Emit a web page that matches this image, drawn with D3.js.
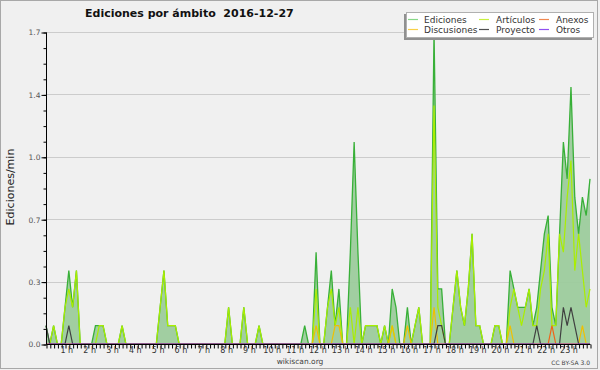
<!DOCTYPE html>
<html><head><meta charset="utf-8">
<script src="https://cdn.jsdelivr.net/npm/d3@7"></script>
<style>
html,body{margin:0;padding:0;background:#f0f0f0;}
svg{display:block;}
text{font-family:"DejaVu Sans",sans-serif;}
</style></head>
<body>
<svg id="c" width="600" height="370"></svg>
<script>
// ---- data (edits per minute, 10-minute bins, 2016-12-27) ----
const ediciones = [
0.1,0,0.1,0,0,0.2,0.4,0.2,0.4,0,0,0,
0,0.1,0.1,0.1,0,0,0,0,0.1,0,0,0,
0,0,0,0,0,0,0.2,0.4,0.1,0.1,0.1,0,
0,0,0,0,0,0,0,0,0,0,0,0,
0.2,0,0,0,0.2,0,0,0,0.1,0,0,0,
0,0,0,0,0,0,0,0,0.1,0,0,0.5,
0,0,0.2,0.4,0.1,0.3,0,0,0.5,1.1,0.5,0,
0.1,0.1,0.1,0.1,0,0.1,0,0.3,0.2,0,0,0.2,
0,0.1,0.2,0,0,0,1.7,0.3,0.3,0,0,0.2,
0.4,0.2,0.1,0.3,0.6,0.1,0.1,0,0,0,0.1,0.1,
0,0,0.4,0.3,0.2,0.2,0.2,0.3,0.1,0.2,0.4,0.6,
0.7,0.2,0.1,0.6,1.1,0.9,1.4,0.8,0.6,0.8,0.7,0.9];
const articulos = [
0,0,0.1,0,0,0.2,0.3,0.2,0.4,0,0,0,
0,0,0.1,0.1,0,0,0,0,0.1,0,0,0,
0,0,0,0,0,0,0.2,0.4,0.1,0.1,0.1,0,
0,0,0,0,0,0,0,0,0,0,0,0,
0.2,0,0,0,0.2,0,0,0,0.1,0,0,0,
0,0,0,0,0,0,0,0,0,0,0,0.3,
0,0,0.2,0.3,0.1,0.2,0,0,0.2,0,0.2,0,
0.1,0.1,0.1,0.1,0,0.1,0,0.1,0,0,0,0,
0,0.1,0.2,0,0,0,1.3,0.2,0.1,0,0,0.2,
0.4,0.2,0.1,0.3,0.6,0.1,0.1,0,0,0,0.1,0.1,
0,0,0.2,0.3,0.2,0.1,0.2,0.3,0.1,0.1,0.3,0.4,
0.6,0.1,0.1,0.6,0.5,0.8,1.0,0.4,0.6,0.4,0.2,0.3];
const anexos = [
0,0,0,0,0,0,0,0,0,0,0,0,
0,0,0,0,0,0,0,0,0,0,0,0,
0,0,0,0,0,0,0,0,0,0,0,0,
0,0,0,0,0,0,0,0,0,0,0,0,
0,0,0,0,0,0,0,0,0,0,0,0,
0,0,0,0,0,0,0,0,0,0,0,0,
0,0,0,0,0,0,0,0,0,0,0,0,
0,0,0,0,0,0,0,0,0,0,0,0,
0,0,0,0,0,0,0,0,0,0,0,0,
0,0,0,0,0,0,0,0,0,0,0,0,
0,0,0,0,0,0,0,0,0,0,0,0,
0,0.1,0,0,0,0,0,0,0,0,0,0];
const discusiones = [
0,0,0,0,0,0,0,0,0,0,0,0,
0,0,0,0,0,0,0,0,0,0,0,0,
0,0,0,0,0,0,0,0,0,0,0,0,
0,0,0,0,0,0,0,0,0,0,0,0,
0,0,0,0,0,0,0,0,0,0,0,0,
0,0,0,0,0,0,0,0,0,0,0,0.1,
0,0,0,0,0.1,0.1,0,0,0,0,0,0,
0,0,0,0,0,0,0,0.1,0,0,0,0.1,
0,0,0,0,0,0,0.2,0,0,0,0,0,
0,0,0,0,0,0,0,0,0,0,0,0,
0,0,0.1,0,0,0,0,0,0,0,0,0,
0,0,0,0,0,0,0,0,0,0.1,0,0];
const proyecto = [
0.1,0,0,0,0,0,0.1,0,0,0,0,0,
0,0,0,0,0,0,0,0,0,0,0,0,
0,0,0,0,0,0,0,0,0,0,0,0,
0,0,0,0,0,0,0,0,0,0,0,0,
0,0,0,0,0,0,0,0,0,0,0,0,
0,0,0,0,0,0,0,0,0,0,0,0,
0,0,0,0,0,0,0,0,0,0,0,0,
0,0,0,0,0,0,0,0,0,0,0,0,
0,0,0,0,0,0,0,0.1,0.1,0,0,0,
0,0,0,0,0,0,0,0,0,0,0,0,
0,0,0,0,0,0,0,0,0,0.1,0,0,
0,0,0,0,0.2,0.1,0.2,0.1,0,0,0,0];
const otros = new Array(144).fill(0);

const yTickValues = [0, 0.34, 0.68, 1.02, 1.36, 1.7];
const yTickLabels = ["0.0","0.3","0.7","1.0","1.4","1.7"];
const hourLabels = ["1 h","2 h","3 h","4 h","5 h","6 h","7 h","8 h","9 h","10 h","11 h","12 h",
                    "13 h","14 h","15 h","16 h","17 h","18 h","19 h","20 h","21 h","22 h","23 h"];
const title = "Ediciones por \u00e1mbito\u00a0\u00a02016-12-27";

const legendItems = [
  {name:"Ediciones",   color:"#88d888", col:0,row:0},
  {name:"Art\u00edculos", color:"#c8f040", col:1,row:0},
  {name:"Anexos",      color:"#f08850", col:2,row:0},
  {name:"Discusiones", color:"#f8d048", col:0,row:1},
  {name:"Proyecto",    color:"#505050", col:1,row:1},
  {name:"Otros",       color:"#9050f0", col:2,row:1}
];

// ---- layout ----
const svg = d3.select("#c");
const L = 46, R = 590, T = 32, B = 344;
const x = d3.scaleLinear().domain([0, ediciones.length - 1]).range([L, R]);
const y = d3.scaleLinear().domain([0, 1.7]).range([B, T]);

svg.append("rect").attr("x",0.5).attr("y",0.5).attr("width",597).attr("height",368)
  .attr("fill","#f0f0f0").attr("stroke","#a8a8a8");

// grid
svg.append("g").selectAll("line").data(yTickValues.slice(1)).join("line")
  .attr("x1",L).attr("x2",R).attr("y1",d=>Math.round(y(d))+0.5).attr("y2",d=>Math.round(y(d))+0.5)
  .attr("stroke","#cccccc").attr("stroke-width",1);

// series
const area = d3.area().x((d,i)=>x(i)).y0(y(0)).y1(d=>y(d));
const line = d3.line().x((d,i)=>x(i)).y(d=>y(d));
svg.append("path").datum(ediciones).attr("d",area).attr("fill","#9ccb9c").attr("fill-opacity",0.95);
svg.append("path").datum(ediciones).attr("d",line).attr("fill","none").attr("stroke","#38b038").attr("stroke-width",1.3);
const seriesLines = [
  [articulos,"#aaee00"],[anexos,"#f06418"],[discusiones,"#f0c000"],[proyecto,"#404040"],[otros,"#9040f0"]
];
seriesLines.forEach(([data,color])=>{
  svg.append("path").datum(data).attr("d",line).attr("fill","none")
    .attr("stroke",color).attr("stroke-width",1.2);
});

// y axis
const yMinor = d3.range(0, 21).map(k => k * 0.085);
const yAxisMinor = d3.axisLeft(y).tickValues(yMinor).tickSize(3).tickFormat("");
svg.append("g").attr("transform",`translate(${L+0.5},0.5)`).call(yAxisMinor)
  .call(g=>g.select(".domain").remove())
  .selectAll("line").attr("stroke","#000");
const yAxis = d3.axisLeft(y).tickValues(yTickValues).tickSize(5).tickPadding(1)
  .tickFormat((d,i)=>yTickLabels[i]);
const gy = svg.append("g").attr("transform",`translate(${L+0.5},0.5)`).call(yAxis);
gy.select(".domain").attr("stroke","#000").attr("d",`M0,${T}V${B}`);
gy.selectAll("line").attr("stroke","#000");
gy.selectAll("text").attr("font-size",7.5).attr("fill","#555").attr("font-family","DejaVu Sans");

// x axis
const xAxisMinor = d3.axisBottom(x).tickValues(d3.range(0, ediciones.length)).tickSize(4).tickFormat("");
const gx = svg.append("g").attr("transform",`translate(0.5,${B+0.5})`).call(xAxisMinor);
gx.select(".domain").attr("stroke","#000").attr("d",`M${L},0H${R}`);
gx.selectAll("line").attr("stroke","#000");
const xAxisLab = d3.axisBottom(x).tickValues(hourLabels.map((d,i)=>(i+1)*6)).tickSize(0).tickPadding(3.5)
  .tickFormat((d,i)=>hourLabels[i]);
const gxl = svg.append("g").attr("transform",`translate(-2.5,${B})`).call(xAxisLab);
gxl.select(".domain").remove();
gxl.selectAll("text").attr("font-size",8).attr("fill","#333").attr("font-family","DejaVu Sans");

// titles
svg.append("text").attr("x",85).attr("y",17).attr("font-size",11).attr("font-weight","bold")
  .attr("fill","#111").text(title);
svg.append("text").attr("transform","translate(14,187) rotate(-90)").attr("text-anchor","middle")
  .attr("font-size",11).attr("fill","#222").text("Ediciones/min");
svg.append("text").attr("x",300).attr("y",364).attr("text-anchor","middle").attr("font-size",7.5)
  .attr("fill","#444").text("wikiscan.org");
svg.append("text").attr("x",590).attr("y",365).attr("text-anchor","end").attr("font-size",6)
  .attr("fill","#444").text("CC BY-SA 3.0");

// legend
const lg = svg.append("g");
lg.append("rect").attr("x",404).attr("y",14).attr("width",188).attr("height",26).attr("fill","#909090");
lg.append("rect").attr("x",406.5).attr("y",12.5).attr("width",187).attr("height",25)
  .attr("fill","#ffffff").attr("stroke","#b0b0b0");
const colX = [408, 479, 539];
const colT = [424, 496, 556];
const rowY = [19.5, 29.5];
legendItems.forEach(it=>{
  lg.append("line").attr("x1",colX[it.col]).attr("x2",colX[it.col]+10)
    .attr("y1",rowY[it.row]).attr("y2",rowY[it.row]).attr("stroke",it.color).attr("stroke-width",1.2);
  lg.append("text").attr("x",colT[it.col]).attr("y",rowY[it.row]+3.2).attr("font-size",9)
    .attr("fill","#333").text(it.name);
});
</script>
</body></html>
